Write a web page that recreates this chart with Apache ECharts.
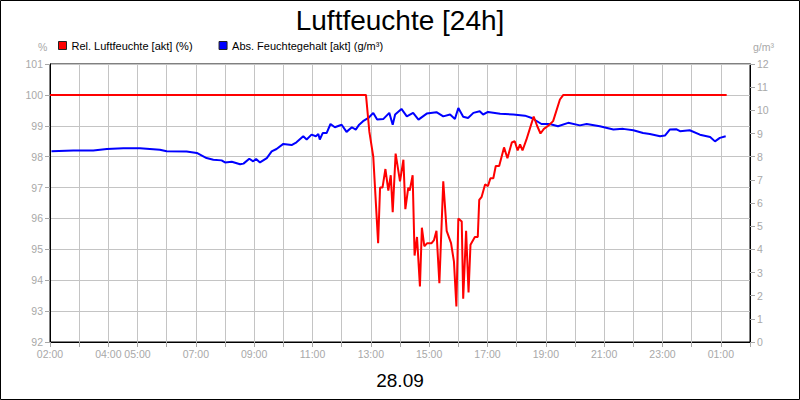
<!DOCTYPE html>
<html>
<head>
<meta charset="utf-8">
<script src="https://cdn.jsdelivr.net/npm/echarts@6/dist/echarts.min.js"></script>
<style>
html,body{margin:0;padding:0;background:#fff;}
#c{width:800px;height:400px;}
</style>
</head>
<body>
<div id="c"></div>
<script>
// ---- data ----
const relTimes = ["02:00","12:50","12:57","13:05","13:15","13:19","13:24","13:30","13:36","13:41","13:45","13:51","14:00","14:07","14:11","14:17","14:20","14:26","14:30","14:35","14:41","14:45","14:50","14:56","15:05","15:10","15:15","15:21","15:29","15:36","15:45","15:51","15:56","16:00","16:07","16:10","16:16","16:21","16:25","16:34","16:40","16:43","16:48","16:55","17:01","17:06","17:12","17:17","17:24","17:34","17:41","17:50","17:56","18:02","18:07","18:12","18:20","18:27","18:35","18:42","18:49","18:56","19:05","19:15","19:29","19:36","01:12"];
const relValues = [100,100,98.8,98.0,95.2,97.0,97.0,97.6,96.9,97.4,96.2,98.1,97.2,97.9,96.3,97.0,96.9,97.4,94.8,95.4,93.8,95.7,95.1,95.2,95.2,95.3,95.6,93.9,97.2,95.6,95.2,94.6,93.15,96.0,95.9,93.4,95.6,93.6,95.15,95.4,95.4,96.6,96.7,97.1,97.05,97.3,97.3,97.7,97.7,98.3,97.95,98.46,98.5,98.2,98.4,98.2,98.55,98.9,99.3,99.0,98.75,98.9,99.0,99.15,99.85,100,100];

const absTimes = ["02:03","02:48","03:29","03:57","04:31","05:05","05:46","06:00","06:41","07:02","07:22","07:36","07:53","08:00","08:14","08:31","08:38","08:50","08:58","09:04","09:12","09:26","09:36","09:46","10:00","10:17","10:27","10:41","10:48","10:58","11:07","11:12","11:15","11:21","11:29","11:37","11:46","12:00","12:10","12:21","12:29","12:36","12:44","12:55","13:05","13:13","13:26","13:38","13:45","13:50","14:03","14:14","14:27","14:38","14:55","15:15","15:29","15:43","15:53","16:00","16:10","16:20","16:31","16:44","16:51","17:01","17:26","17:53","18:17","18:31","18:51","19:08","19:25","19:46","20:10","20:24","20:51","21:19","21:39","22:00","22:20","22:34","22:55","23:05","23:15","23:29","23:36","23:56","00:17","00:38","00:48","00:58","01:10"];
const absValues = [8.23,8.27,8.27,8.33,8.36,8.36,8.3,8.23,8.22,8.16,7.94,7.87,7.84,7.75,7.78,7.67,7.7,7.91,7.8,7.9,7.75,7.94,8.23,8.33,8.55,8.5,8.62,8.88,8.74,8.95,8.88,8.98,8.74,9.02,9.02,9.41,9.27,9.38,9.07,9.27,9.17,9.38,9.53,9.67,9.89,9.6,9.63,9.89,9.38,9.82,10.06,9.74,9.89,9.6,9.86,9.92,9.74,9.82,9.63,10.1,9.72,9.67,9.89,9.96,9.82,9.93,9.85,9.82,9.77,9.67,9.41,9.41,9.31,9.46,9.35,9.41,9.31,9.17,9.2,9.14,9.02,8.98,8.88,8.91,9.17,9.18,9.1,9.14,8.95,8.85,8.66,8.81,8.88];

const xTickLabels = ["02:00","04:00","05:00","07:00","09:00","11:00","13:00","15:00","17:00","19:00","21:00","23:00","01:00"];
const leftTicks = {min: 92, max: 101};
const rightTicks = {min: 0, max: 12};

// ---- helpers ----
const START_HOUR = 2;
function toOffset(t){
  const p = t.split(':').map(Number);
  let v = p[0] + p[1]/60 - START_HOUR;
  if (v < 0) v += 24;
  return v;
}
function offsetToLabel(v){
  let h = (Math.round(v) + START_HOUR) % 24;
  return (h < 10 ? '0' : '') + h + ':00';
}
const relData = relTimes.map((t,i)=>[toOffset(t), relValues[i]]);
const absData = absTimes.map((t,i)=>[toOffset(t), absValues[i]]);

const FONT = 'Liberation Sans, Arial, sans-serif';
const GREY = '#a8a8a8';

const chart = echarts.init(document.getElementById('c'), null, {renderer:'svg'});
chart.setOption({
  animation: false,
  backgroundColor: '#fff',
  title: [
    {text: 'Luftfeuchte [24h]', left: 'center', top: 1,
     textStyle: {fontFamily: FONT, fontSize: 28, fontWeight: 'normal', color: '#000'}},
    {text: '28.09', left: 'center', top: 366,
     textStyle: {fontFamily: FONT, fontSize: 19, fontWeight: 'normal', color: '#000'}}
  ],
  legend: {
    left: 58, top: 40, padding: 0, icon: 'rect', itemWidth: 8, itemHeight: 8, itemGap: 26,
    textStyle: {fontFamily: FONT, fontSize: 11, color: '#000'},
    itemStyle: {borderColor: '#222', borderWidth: 1},
    data: ['Rel. Luftfeuchte [akt] (%)', 'Abs. Feuchtegehalt [akt] (g/m³)']
  },
  graphic: [
    {type: 'rect', shape: {x: 0.5, y: 0.5, width: 799, height: 399},
     style: {fill: 'none', stroke: '#000', lineWidth: 1}, silent: true},
    {type: 'text', left: 38, top: 41, style: {text: '%', fill: GREY, font: '10.5px ' + FONT}},
    {type: 'text', left: 753, top: 41, style: {text: 'g/m³', fill: GREY, font: '10.5px ' + FONT}}
  ],
  grid: {left: 50, right: 50, top: 64, bottom: 58, show: true,
         borderColor: '#000', borderWidth: 1, backgroundColor: 'transparent'},
  xAxis: {
    type: 'value', min: 0, max: 24, interval: 1,
    axisLine: {show: true, lineStyle: {color: '#000', width: 1}},
    axisTick: {show: true, length: 5, lineStyle: {color: GREY}},
    splitLine: {show: true, lineStyle: {color: '#c4c4c4', width: 1}},
    axisLabel: {
      color: GREY, fontFamily: FONT, fontSize: 10.5, margin: 6,
      showMinLabel: true, showMaxLabel: true,
      formatter: function(v){
        if (v >= 24) return '';
        const l = offsetToLabel(v);
        return xTickLabels.indexOf(l) >= 0 ? l : '';
      }
    }
  },
  yAxis: [
    {type: 'value', min: leftTicks.min, max: leftTicks.max, interval: 1, position: 'left',
     axisLine: {show: true, lineStyle: {color: '#000', width: 1}},
     axisTick: {show: true, length: 5, lineStyle: {color: GREY}},
     splitLine: {show: true, lineStyle: {color: '#c4c4c4', width: 1}},
     axisLabel: {color: GREY, fontFamily: FONT, fontSize: 10.5, margin: 7}},
    {type: 'value', min: rightTicks.min, max: rightTicks.max, interval: 1, position: 'right',
     axisLine: {show: true, lineStyle: {color: '#000', width: 1}},
     axisTick: {show: true, length: 5, lineStyle: {color: GREY}},
     splitLine: {show: false},
     axisLabel: {color: GREY, fontFamily: FONT, fontSize: 10.5, margin: 7}}
  ],
  series: [
    {name: 'Rel. Luftfeuchte [akt] (%)', type: 'line', yAxisIndex: 0, data: relData,
     showSymbol: false, color: '#ff0000', lineStyle: {color: '#ff0000', width: 2}, z: 3},
    {name: 'Abs. Feuchtegehalt [akt] (g/m³)', type: 'line', yAxisIndex: 1, data: absData,
     showSymbol: false, color: '#0000ff', lineStyle: {color: '#0000ff', width: 2}, z: 2}
  ]
});
</script>
</body>
</html>
